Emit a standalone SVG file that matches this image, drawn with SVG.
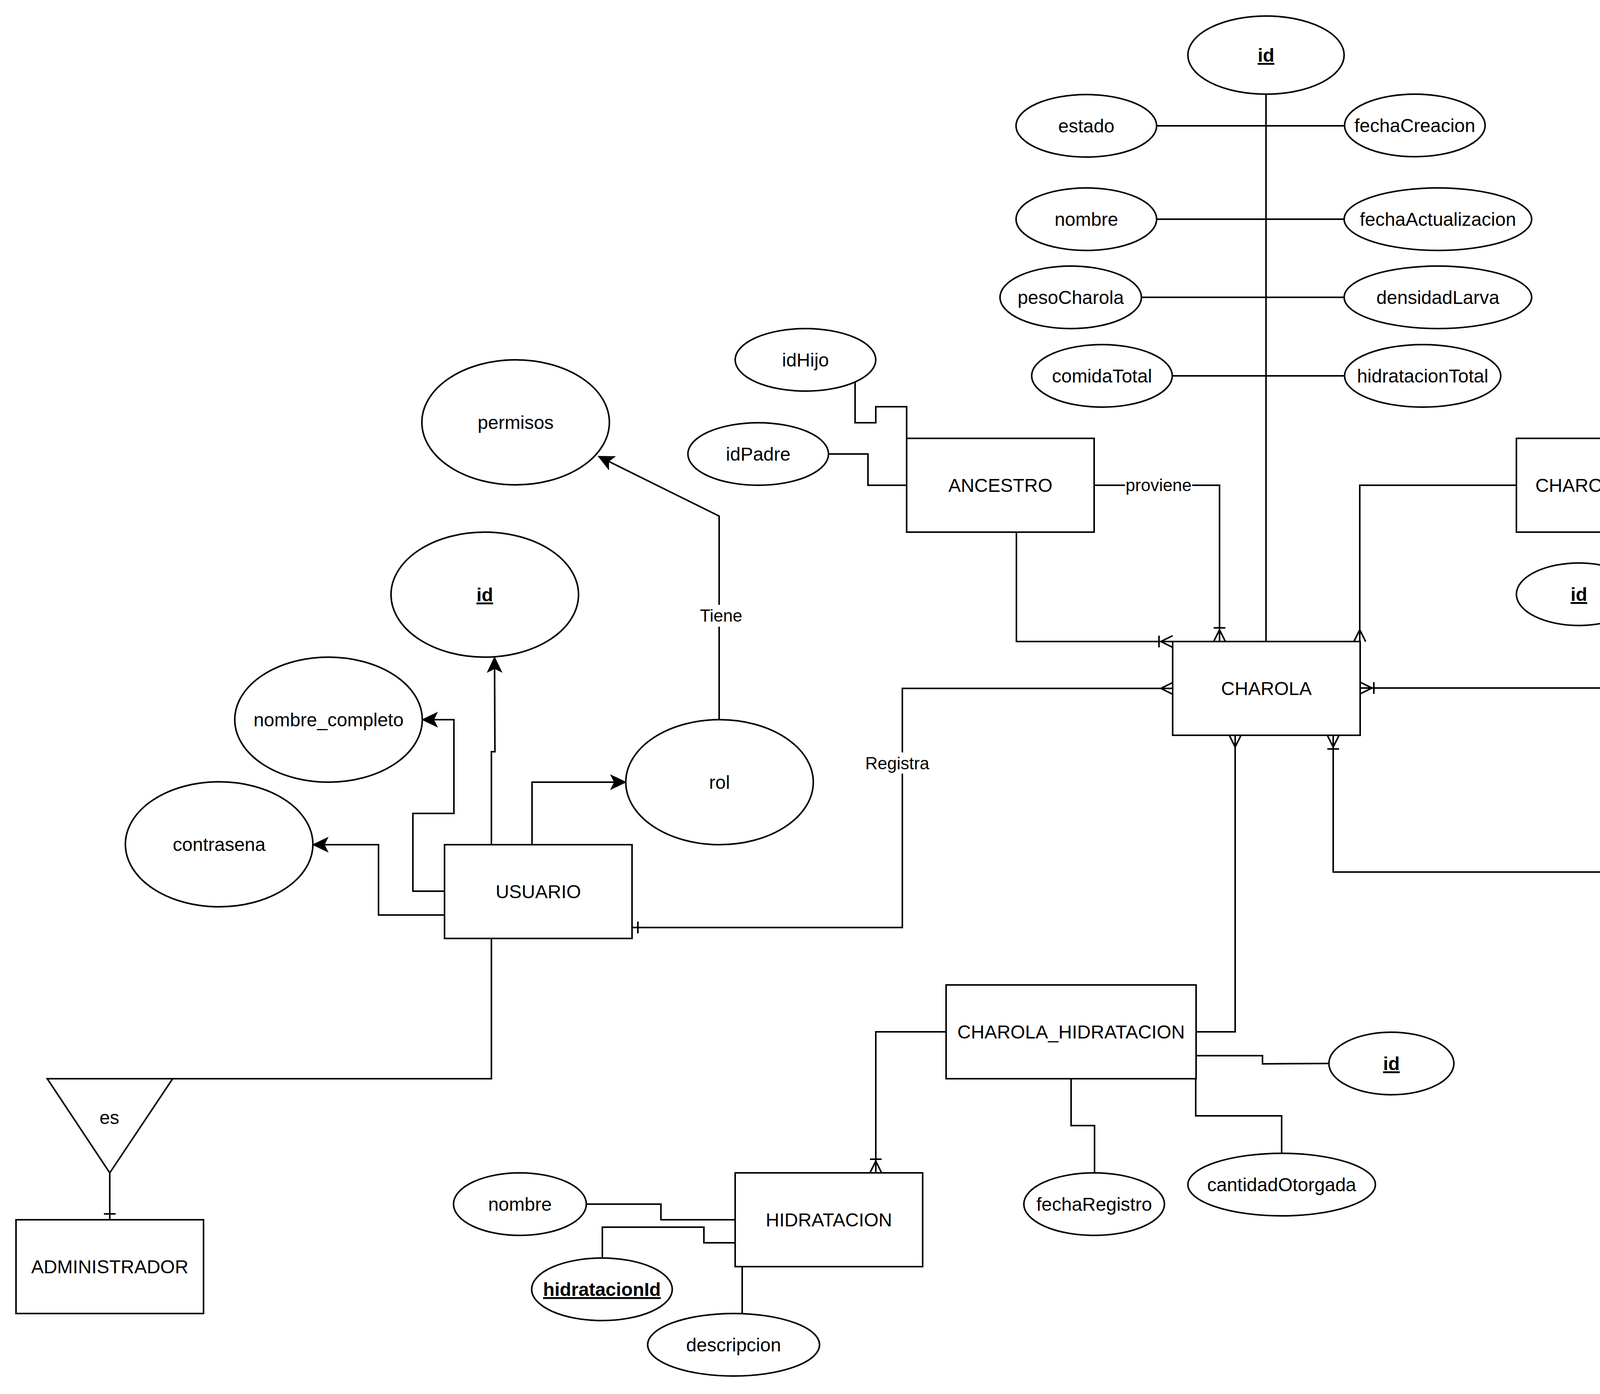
<svg xmlns="http://www.w3.org/2000/svg" width="6448" height="3568" viewBox="0 0 6448 3568">
<style>
.n rect,.n ellipse,.n polygon{fill:#fff;stroke:#000;stroke-width:4}
.c path{fill:none;stroke:#000;stroke-width:4}
text{font-family:"Liberation Sans",Arial,Helvetica,sans-serif;font-size:48px;text-anchor:middle;fill:#000}
.k{font-weight:bold;text-decoration:underline}
.l{font-size:44px}
.bg{fill:#fff;stroke:none}
</style>
<defs>
<marker id="many" markerUnits="userSpaceOnUse" viewBox="-60 -40 80 80" markerWidth="80" markerHeight="80" refX="0" refY="0" orient="auto-start-reverse"><path d="M0,-15 L-30,0 L0,15" fill="none" stroke="#000" stroke-width="4"/></marker>
<marker id="onemany" markerUnits="userSpaceOnUse" viewBox="-60 -40 80 80" markerWidth="80" markerHeight="80" refX="0" refY="0" orient="auto-start-reverse"><path d="M0,-15 L-30,0 L0,15 M-35,-15 L-35,15" fill="none" stroke="#000" stroke-width="4"/></marker>
<marker id="one" markerUnits="userSpaceOnUse" viewBox="-60 -40 80 80" markerWidth="80" markerHeight="80" refX="0" refY="0" orient="auto-start-reverse"><path d="M-15,-15 L-15,15" fill="none" stroke="#000" stroke-width="4"/></marker>
<marker id="arrow" markerUnits="userSpaceOnUse" viewBox="-60 -40 80 80" markerWidth="80" markerHeight="80" refX="0" refY="0" orient="auto"><path d="M0,0 L-38,-18 L-29,0 L-38,18 Z" fill="#000" stroke="#000" stroke-width="2"/></marker>
</defs>
<rect width="6448" height="3568" fill="#fff"/>
<g id="connectors" class="c">
<path d="M3241,241 L3241,1642"/>
<path d="M2961,322 L3442,322"/>
<path d="M2961,561 L3441,561"/>
<path d="M2922,761 L3441,761"/>
<path d="M3001,962 L3442,962"/>
<path d="M2189,978 L2189,1082 L2242,1082 L2242,1041 L2321,1041 L2321,1122"/>
<path d="M2121,1162 L2222,1162 L2222,1242 L2321,1242"/>
<path d="M2602,1362 L2602,1642 L3002,1642" marker-end="url(#onemany)"/>
<path d="M2801,1242 L3122,1242 L3122,1642" marker-end="url(#onemany)"/>
<path d="M1618,2374 L2310,2374 L2310,1762 L3002,1762" marker-start="url(#one)" marker-end="url(#many)"/>
<path d="M3882,1242 L3481,1242 L3481,1642" marker-end="url(#many)"/>
<path d="M4482,1242 L4722,1242 L4722,841" marker-end="url(#onemany)"/>
<path d="M4334,922 L4332,1121"/>
<path d="M4182,1362 L4182,1440 L4281,1440 L4281,1522 L4201,1522"/>
<path d="M4482,1362 L4482,1440 L4881,1440 L4881,1324 L5201,1324"/>
<path d="M4961,361 L4961,602"/>
<path d="M5202,721 L5364,721 L5363,440"/>
<path d="M5202,782 L5422,782 L5422,761 L5642,761"/>
<path d="M4301,1761 L3482,1761" marker-end="url(#onemany)"/>
<path d="M4781,1742 L5402,1742" marker-end="url(#onemany)"/>
<path d="M5882,1801 L6082,1801"/>
<path d="M5641,1922 L5641,2001 L5502,2001 L5502,2082"/>
<path d="M5762,1922 L5762,2022 L6181,2022 L6181,2122"/>
<path d="M4201,2232 L3413,2232 L3413,1882" marker-end="url(#onemany)"/>
<path d="M4682,2232 L5162,2232 L5162,2582" marker-end="url(#many)"/>
<path d="M5402,2702 L5602,2702"/>
<path d="M5162,2822 L5162,2921 L4986,2921 L4986,3024"/>
<path d="M5281,2822 L5281,2921 L5484,2921 L5482,3022"/>
<path d="M3061,2641 L3162,2641 L3162,1882" marker-end="url(#many)"/>
<path d="M2422,2641 L2242,2641 L2242,3002" marker-end="url(#onemany)"/>
<path d="M2742,2761 L2742,2881 L2802,2881 L2802,3002"/>
<path d="M3061,2702 L3232,2702 L3232,2723 L3402,2722"/>
<path d="M3061,2761 L3061,2856 L3281,2856 L3281,2952"/>
<path d="M1501,3082 L1692,3082 L1692,3122 L1882,3122"/>
<path d="M1542,3220 L1542,3141 L1802,3141 L1802,3181 L1882,3181"/>
<path d="M1900,3242 L1900,3362"/>
<path d="M1258,2162 L1258,1924 L1267,1924 L1266,1682" marker-end="url(#arrow)"/>
<path d="M1138,2281 L1057,2281 L1057,2082 L1162,2082 L1162,1842 L1081,1842" marker-end="url(#arrow)"/>
<path d="M1138,2342 L969,2342 L969,2162 L801,2162" marker-end="url(#arrow)"/>
<path d="M1362,2162 L1362,2002 L1602,2002" marker-end="url(#arrow)"/>
<path d="M1841,1842 L1841,1321 L1532,1168" marker-end="url(#arrow)"/>
<path d="M1258,2402 L1258,2761 L442,2761"/>
<path d="M281,3002 L281,3122" marker-end="url(#one)"/>
<rect class="bg" x="1790" y="1548" width="112" height="56"/>
<text class="l" x="1846" y="1591">Tiene</text>
<rect class="bg" x="2880" y="1222" width="172" height="44"/>
<text class="l" x="2966" y="1257">proviene</text>
<rect class="bg" x="2212" y="1926" width="170" height="54"/>
<text class="l" x="2297" y="1969">Registra</text>
</g>
<g id="USUARIO" class="n"><rect x="1138" y="2162" width="480" height="240"/><text x="1378" y="2299">USUARIO</text></g>
<g id="usuario_id" class="n"><ellipse cx="1241" cy="1522" rx="240" ry="160"/><text class="k" x="1241" y="1539">id</text></g>
<g id="nombre_completo" class="n"><ellipse cx="841" cy="1842" rx="240" ry="160"/><text x="841" y="1859">nombre_completo</text></g>
<g id="contrasena" class="n"><ellipse cx="561" cy="2161" rx="240" ry="160"/><text x="561" y="2178">contrasena</text></g>
<g id="rol" class="n"><ellipse cx="1842" cy="2002" rx="240" ry="160"/><text x="1842" y="2019">rol</text></g>
<g id="permisos" class="n"><ellipse cx="1320" cy="1081" rx="240" ry="160"/><text x="1320" y="1098">permisos</text></g>
<g id="es" class="n"><polygon points="121,2761 442,2761 281,3002"/><text x="280" y="2877">es</text></g>
<g id="ADMINISTRADOR" class="n"><rect x="41" y="3122" width="480" height="240"/><text x="281" y="3259">ADMINISTRADOR</text></g>
<g id="ANCESTRO" class="n"><rect x="2321" y="1122" width="480" height="240"/><text x="2561" y="1259">ANCESTRO</text></g>
<g id="idHijo" class="n"><ellipse cx="2062" cy="921" rx="180" ry="80"/><text x="2062" y="938">idHijo</text></g>
<g id="idPadre" class="n"><ellipse cx="1941" cy="1162" rx="180" ry="80"/><text x="1941" y="1179">idPadre</text></g>
<g id="CHAROLA" class="n"><rect x="3002" y="1642" width="480" height="240"/><text x="3242" y="1779">CHAROLA</text></g>
<g id="charola_id" class="n"><ellipse cx="3241" cy="141" rx="200" ry="100"/><text class="k" x="3241" y="158">id</text></g>
<g id="estado" class="n"><ellipse cx="2781" cy="322" rx="180" ry="80"/><text x="2781" y="339">estado</text></g>
<g id="fechaCreacion" class="n"><ellipse cx="3622" cy="321" rx="180" ry="80"/><text x="3622" y="338">fechaCreacion</text></g>
<g id="charola_nombre" class="n"><ellipse cx="2781" cy="561" rx="180" ry="80"/><text x="2781" y="578">nombre</text></g>
<g id="fechaActualizacion" class="n"><ellipse cx="3681" cy="561" rx="240" ry="80"/><text x="3681" y="578">fechaActualizacion</text></g>
<g id="pesoCharola" class="n"><ellipse cx="2741" cy="761" rx="181" ry="80"/><text x="2741" y="778">pesoCharola</text></g>
<g id="densidadLarva" class="n"><ellipse cx="3681" cy="761" rx="240" ry="80"/><text x="3681" y="778">densidadLarva</text></g>
<g id="comidaTotal" class="n"><ellipse cx="2821" cy="962" rx="180" ry="80"/><text x="2821" y="979">comidaTotal</text></g>
<g id="hidratacionTotal" class="n"><ellipse cx="3642" cy="962" rx="200" ry="80"/><text x="3642" y="979">hidratacionTotal</text></g>
<g id="CHAROLA_ALIMENTO" class="n"><rect x="3882" y="1122" width="600" height="240"/><text x="4182" y="1259">CHAROLA_ALIMENTO</text></g>
<g id="ca_fechaRegistro" class="n"><ellipse cx="4342" cy="842" rx="180" ry="80"/><text x="4342" y="859">fechaRegistro</text></g>
<g id="ca_id" class="n"><ellipse cx="4042" cy="1521" rx="160" ry="80"/><text class="k" x="4042" y="1538">id</text></g>
<g id="ca_cantidadOtorgada" class="n"><ellipse cx="5422" cy="1322" rx="221" ry="80"/><text x="5422" y="1339">cantidadOtorgada</text></g>
<g id="ALIMENTO" class="n"><rect x="4722" y="602" width="480" height="240"/><text x="4962" y="738">ALIMENTO</text></g>
<g id="comidaId" class="n"><ellipse cx="4961" cy="281" rx="180" ry="80"/><text class="k" x="4961" y="298">comidaId</text></g>
<g id="alimento_nombre" class="n"><ellipse cx="5372" cy="361" rx="170" ry="80"/><text x="5372" y="378">nombre</text></g>
<g id="alimento_descripcion" class="n"><ellipse cx="5862" cy="761" rx="220" ry="80"/><text x="5862" y="778">descripcion</text></g>
<g id="CHAROLA_FRAS" class="n"><rect x="4301" y="1654" width="480" height="240"/><text x="4541" y="1791">CHAROLA_FRAS</text></g>
<g id="FRAS" class="n"><rect x="5402" y="1682" width="480" height="240"/><text x="5642" y="1819">FRAS</text></g>
<g id="frasId" class="n"><ellipse cx="6242" cy="1802" rx="160" ry="80"/><text class="k" x="6242" y="1819">frasId</text></g>
<g id="fras_fechaRegistro" class="n"><ellipse cx="5501" cy="2162" rx="180" ry="80"/><text x="5501" y="2179">fechaRegistro</text></g>
<g id="fras_cantidadObtenida" class="n"><ellipse cx="6182" cy="2201" rx="220" ry="80"/><text x="6182" y="2218">cantidadObtenida</text></g>
<g id="CHAROLA_PUPA" class="n"><rect x="4201" y="2122" width="480" height="240"/><text x="4441" y="2259">CHAROLA_PUPA</text></g>
<g id="PUPA" class="n"><rect x="4922" y="2582" width="480" height="240"/><text x="5162" y="2719">PUPA</text></g>
<g id="pupaId" class="n"><ellipse cx="5762" cy="2702" rx="160" ry="80"/><text class="k" x="5762" y="2719">pupaId</text></g>
<g id="pupa_fecha" class="n"><ellipse cx="4962" cy="3102" rx="180" ry="80"/><text x="4962" y="3119">fecha</text></g>
<g id="pupa_cantidadObtenida" class="n"><ellipse cx="5462" cy="3102" rx="220" ry="80"/><text x="5462" y="3119">cantidadObtenida</text></g>
<g id="CHAROLA_HIDRATACION" class="n"><rect x="2422" y="2521" width="640" height="240"/><text x="2742" y="2658">CHAROLA_HIDRATACION</text></g>
<g id="ch_fechaRegistro" class="n"><ellipse cx="2801" cy="3082" rx="180" ry="80"/><text x="2801" y="3099">fechaRegistro</text></g>
<g id="ch_id" class="n"><ellipse cx="3562" cy="2722" rx="160" ry="80"/><text class="k" x="3562" y="2739">id</text></g>
<g id="ch_cantidadOtorgada" class="n"><ellipse cx="3281" cy="3032" rx="240" ry="80"/><text x="3281" y="3049">cantidadOtorgada</text></g>
<g id="HIDRATACION" class="n"><rect x="1882" y="3002" width="480" height="240"/><text x="2122" y="3139">HIDRATACION</text></g>
<g id="hidratacion_nombre" class="n"><ellipse cx="1331" cy="3082" rx="170" ry="80"/><text x="1331" y="3099">nombre</text></g>
<g id="hidratacionId" class="n"><ellipse cx="1541" cy="3300" rx="180" ry="80"/><text class="k" x="1541" y="3317">hidratacionId</text></g>
<g id="hidratacion_descripcion" class="n"><ellipse cx="1878" cy="3442" rx="220" ry="80"/><text x="1878" y="3459">descripcion</text></g>
</svg>
